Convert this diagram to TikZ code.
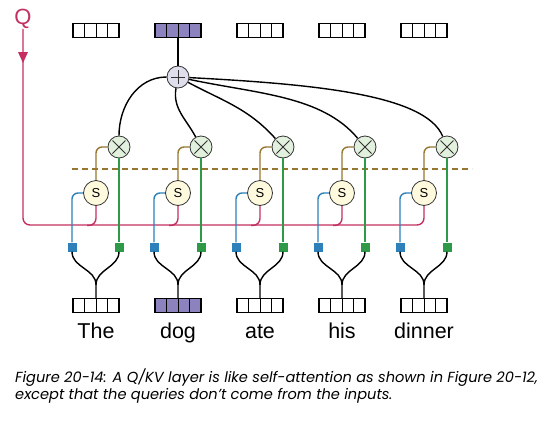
\documentclass[tikz,border=0pt]{standalone}
\usepackage{fontspec}
\setmainfont{Liberation Sans}
\newfontfamily\capfont{Poppins}
\usetikzlibrary{positioning}
\definecolor{qred}{RGB}{196,46,96}
\definecolor{kblue}{RGB}{46,128,186}
\definecolor{vgreen}{RGB}{46,154,72}
\definecolor{sbrown}{RGB}{150,118,48}
\definecolor{mulfill}{RGB}{226,240,222}
\definecolor{sfill}{RGB}{255,250,222}
\definecolor{sumfill}{RGB}{222,222,236}
\definecolor{vecpurple}{RGB}{140,130,190}
\tikzset{
	vec/.style={draw, line width=1.3pt, minimum width=46pt, minimum height=14pt, inner sep=0pt,
		path picture={\foreach \k in {11.5,23,34.5} \draw[line width=0.8pt] ([xshift=\k pt]path picture bounding box.north west) -- ([xshift=\k pt]path picture bounding box.south west);}},
	sumnode/.style={circle, draw=black!80, fill=sumfill, line width=0.8pt, minimum size=22pt, inner sep=0pt,
		path picture={\draw[line width=0.9pt] ([xshift=-7pt]path picture bounding box.center) -- ([xshift=7pt]path picture bounding box.center);
			\draw[line width=0.9pt] ([yshift=-7pt]path picture bounding box.center) -- ([yshift=7pt]path picture bounding box.center);}},
	mul/.style={circle, draw=black!80, fill=mulfill, line width=0.8pt, minimum size=22pt, inner sep=0pt,
		path picture={\draw[line width=0.9pt] ([xshift=-6.5pt,yshift=-6.5pt]path picture bounding box.center) -- ([xshift=6.5pt,yshift=6.5pt]path picture bounding box.center);
			\draw[line width=0.9pt] ([xshift=-6.5pt,yshift=6.5pt]path picture bounding box.center) -- ([xshift=6.5pt,yshift=-6.5pt]path picture bounding box.center);}},
	snode/.style={circle, draw=black!80, fill=sfill, line width=0.8pt, minimum size=25pt, inner sep=0pt, font=\fontsize{13}{13}\selectfont},
	key/.style={fill=kblue, minimum size=9pt, inner sep=0pt},
	val/.style={fill=vgreen, minimum size=9pt, inner sep=0pt},
	word/.style={font=\fontsize{21.5}{21.5}\selectfont, text height=16pt, text depth=5pt, inner sep=0pt},
	wire/.style={line width=1.4pt},
	qline/.style={draw=qred, line width=1.4pt, rounded corners=7pt},
	kline/.style={draw=kblue, line width=1.4pt, rounded corners=6pt},
	vline/.style={draw=vgreen, line width=1.4pt},
	sline/.style={draw=sbrown, line width=1.4pt, rounded corners=6pt}
}
\begin{document}
\begin{tikzpicture}[x=1pt,y=-1pt]
	\useasboundingbox (0,0) rectangle (560,421);
	% outputs and the sum
	\node[vec] (o1) at (96,30.5) {};
	\node[vec, fill=vecpurple] (o2) at (178,30.5) {};
	\node[vec] (o3) at (260,30.5) {};
	\node[vec] (o4) at (342,30.5) {};
	\node[vec] (o5) at (424,30.5) {};
	\node[sumnode] (sum) at (178,77) {};
	% products and scores
	\node[mul] (m1) at (119,147) {};
	\node[mul] (m2) at (201,147) {};
	\node[mul] (m3) at (283,147) {};
	\node[mul] (m4) at (365,147) {};
	\node[mul] (m5) at (447,147) {};
	\node[snode] (s1) at (96,193) {S};
	\node[snode] (s2) at (178,193) {S};
	\node[snode] (s3) at (260,193) {S};
	\node[snode] (s4) at (342,193) {S};
	\node[snode] (s5) at (424,193) {S};
	% keys and values
	\node[key] (k1) at (72,247) {};
	\node[val] (v1) at (119,247) {};
	\node[key] (k2) at (154,247) {};
	\node[val] (v2) at (201,247) {};
	\node[key] (k3) at (236,247) {};
	\node[val] (v3) at (283,247) {};
	\node[key] (k4) at (318,247) {};
	\node[val] (v4) at (365,247) {};
	\node[key] (k5) at (400,247) {};
	\node[val] (v5) at (447,247) {};
	% inputs
	\node[vec] (i1) at (96,305.5) {};
	\node[vec, fill=vecpurple] (i2) at (178,305.5) {};
	\node[vec] (i3) at (260,305.5) {};
	\node[vec] (i4) at (342,305.5) {};
	\node[vec] (i5) at (424,305.5) {};
	\node[word, below=9pt of i1] (w1) {The};
	\node[word, below=9pt of i2] (w2) {dog};
	\node[word, below=9pt of i3] (w3) {ate};
	\node[word, below=9pt of i4] (w4) {his};
	\node[word, below=9pt of i5] (w5) {dinner};
	\coordinate[above=13pt of i1] (j1);
	\coordinate[above=13pt of i2] (j2);
	\coordinate[above=13pt of i3] (j3);
	\coordinate[above=13pt of i4] (j4);
	\coordinate[above=13pt of i5] (j5);
	% query
	\node[text=qred, font=\fontsize{22}{22}\selectfont, inner sep=0pt] (q) at (23,19) {Q};
	\draw[qline] (q.south) -- (23,225) -| (s5.south);
	\fill[qred] (23,63) -- (18,52) -- (28,52) -- cycle;
	\draw[qline] (s1.south) |- ++(-9,19.5);
	\draw[qline] (s2.south) |- ++(-9,19.5);
	\draw[qline] (s3.south) |- ++(-9,19.5);
	\draw[qline] (s4.south) |- ++(-9,19.5);
	\draw[sbrown, line width=1.4pt, dash pattern=on 6pt off 4pt] (72,169) -- (472,169);
	\draw[kline] (s1.west) -| (k1.north);
	\draw[kline] (s2.west) -| (k2.north);
	\draw[kline] (s3.west) -| (k3.north);
	\draw[kline] (s4.west) -| (k4.north);
	\draw[kline] (s5.west) -| (k5.north);
	\draw[vline] (m1.south) -- (v1.north);
	\draw[vline] (m2.south) -- (v2.north);
	\draw[vline] (m3.south) -- (v3.north);
	\draw[vline] (m4.south) -- (v4.north);
	\draw[vline] (m5.south) -- (v5.north);
	\draw[sline] (s1.north) |- (m1.west);
	\draw[sline] (s2.north) |- (m2.west);
	\draw[sline] (s3.north) |- (m3.west);
	\draw[sline] (s4.north) |- (m4.west);
	\draw[sline] (s5.north) |- (m5.west);
	% wires
	\draw[wire] (sum) -- (o2);
	\draw[wire] (sum) to[out=180,in=90] (m1);
	\draw[wire] (sum) to[out=-100,in=118] (m2);
	\draw[wire] (sum) to[out=-28,in=132] (m3);
	\draw[wire] (sum) to[out=-12,in=130, in looseness=0.8] (m4);
	\draw[wire] (sum) to[out=-3,in=112, out looseness=1.2, in looseness=0.45] (m5);
	\draw[wire] (k1.south) to[out=-90,in=90] (j1) -- (i1.north);
	\draw[wire] (v1.south) to[out=-90,in=90] (j1);
	\draw[wire] (k2.south) to[out=-90,in=90] (j2) -- (i2.north);
	\draw[wire] (v2.south) to[out=-90,in=90] (j2);
	\draw[wire] (k3.south) to[out=-90,in=90] (j3) -- (i3.north);
	\draw[wire] (v3.south) to[out=-90,in=90] (j3);
	\draw[wire] (k4.south) to[out=-90,in=90] (j4) -- (i4.north);
	\draw[wire] (v4.south) to[out=-90,in=90] (j4);
	\draw[wire] (k5.south) to[out=-90,in=90] (j5) -- (i5.north);
	\draw[wire] (v5.south) to[out=-90,in=90] (j5);
	% caption
	\node[anchor=base west, inner sep=0pt, font=\capfont\itshape\fontsize{14.6}{14.6}\selectfont] (cap1) at (15,382) {Figure 20-14: A Q/KV layer is like self-attention as shown in Figure 20-12,};
	\node[anchor=base west, inner sep=0pt, font=\capfont\itshape\fontsize{14.6}{14.6}\selectfont] (cap2) at (15,399) {except that the queries don’t come from the inputs.};
\end{tikzpicture}
\end{document}
